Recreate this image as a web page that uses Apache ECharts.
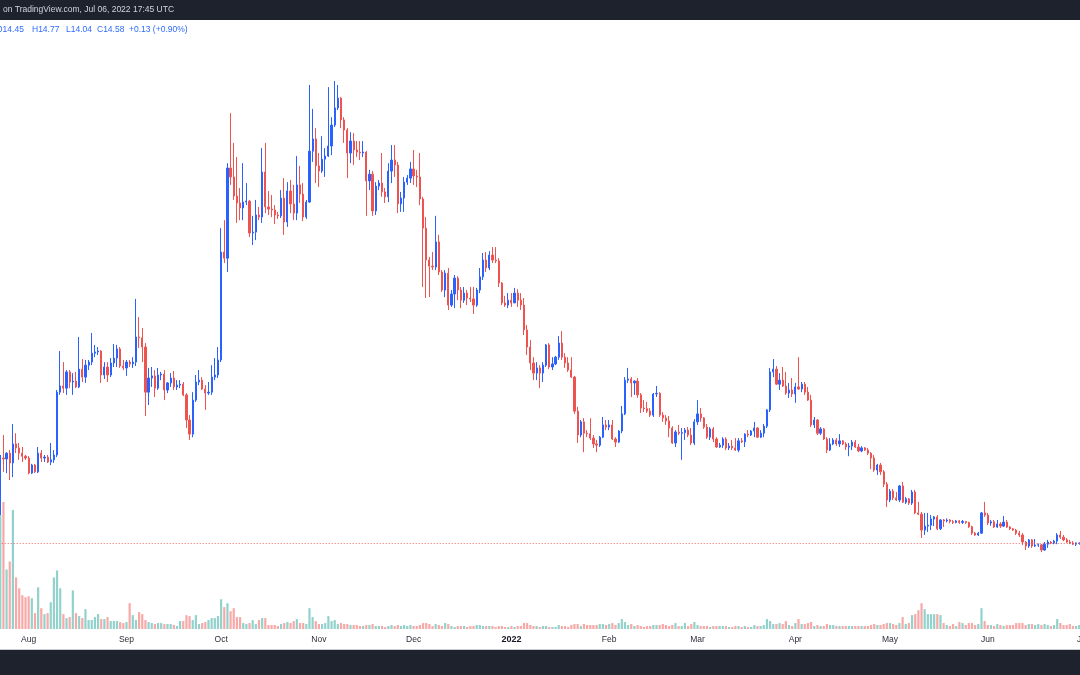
<!DOCTYPE html>
<html>
<head>
<meta charset="utf-8">
<script src="https://cdn.jsdelivr.net/npm/echarts@6/dist/echarts.min.js"></script>
<style>
html,body{margin:0;padding:0;background:#ffffff;}
#chart{width:1080px;height:675px;}
</style>
</head>
<body>
<div id="chart"></div>
<script>
// Daily candles, 2021-07-23 .. 2022-06-30 (axis runs one more day, to 2022-07-01)
const startDate = '2021-07-23';
const dayCount = 344;

const open = [
24.4,42.3,42.0,43.9,40.7,46.9,45.6,43.9,42.9,42.3,
37.4,40.0,37.8,43.9,42.3,42.6,41.0,41.7,43.3,63.8,
65.8,65.1,70.4,67.1,67.4,65.5,71.3,68.7,72.6,73.6,
76.5,76.9,77.2,69.4,72.0,69.4,73.3,74.9,77.9,72.3,
71.7,73.6,73.0,73.6,81.8,81.5,78.5,63.8,68.4,69.1,
65.1,69.4,69.7,64.5,66.8,68.4,65.5,66.1,66.4,62.9,
54.7,50.1,61.2,67.1,67.7,64.8,63.5,63.8,68.7,69.4,
74.3,109.5,107.5,136.9,134.0,127.8,125.5,123.9,125.8,126.1,
115.7,116.0,121.6,120.9,135.6,124.2,123.5,123.2,121.6,121.3,
127.1,119.3,129.4,125.2,122.2,131.4,128.4,120.9,125.8,142.4,
146.4,137.6,135.9,139.8,140.8,144.1,150.9,156.5,159.7,152.6,
149.3,141.8,145.7,142.8,142.1,141.8,142.1,132.7,134.9,122.9,
131.0,132.0,129.1,127.5,135.9,139.5,137.9,125.2,127.1,132.3,
133.6,136.6,134.3,134.0,126.8,117.3,106.9,104.9,104.6,112.8,
103.0,97.1,102.6,92.2,95.8,101.0,97.1,93.8,96.1,94.5,
94.2,92.2,97.1,101.4,106.9,104.3,108.5,106.9,106.6,99.4,
92.9,92.2,93.8,92.9,96.1,93.8,92.2,84.1,78.5,73.3,
70.0,71.7,70.0,72.6,79.2,72.0,73.0,75.2,79.8,75.2,
73.3,71.0,68.7,57.6,49.8,54.1,50.4,50.2,48.8,46.9,
46.5,49.1,53.1,52.4,53.1,48.5,47.5,51.1,56.7,67.7,
68.1,66.8,67.4,62.9,58.6,58.4,57.6,56.3,63.2,63.4,
56.3,55.4,54.4,52.1,47.2,50.8,50.4,50.6,51.4,49.8,
47.2,54.1,56.7,55.4,52.4,49.1,51.8,48.5,45.9,46.5,
48.5,45.6,46.2,45.6,44.9,47.9,47.6,50.1,49.8,51.1,
52.1,49.1,50.4,52.7,58.0,70.4,71.3,66.4,67.7,65.8,
63.5,64.5,63.2,65.5,64.8,66.4,63.8,61.2,53.1,54.7,
50.4,51.8,48.5,44.9,46.9,48.2,46.9,47.9,46.9,45.9,
46.2,47.5,45.9,44.6,45.6,44.9,43.9,42.3,38.4,40.0,
37.8,33.8,28.6,31.5,29.3,28.6,33.2,27.9,29.0,27.6,
31.2,24.4,24.0,18.8,20.1,20.4,22.4,23.1,19.2,22.1,
21.8,22.1,21.6,21.3,21.8,21.3,21.6,21.3,19.9,17.8,
17.2,17.8,24.4,23.7,21.1,21.5,19.8,20.8,20.1,21.4,
19.8,19.2,18.8,17.8,17.2,14.9,13.6,15.6,13.6,13.9,
14.0,12.3,14.2,14.9,14.6,15.2,17.2,16.5,15.6,14.9,
14.6,14.2,14.45
];

const high = [
43.3,49.8,44.2,44.9,53.4,50.4,47.2,45.9,43.3,42.9,
40.4,40.4,45.9,44.9,43.3,43.3,47.2,44.9,64.5,77.2,
73.6,71.0,71.0,70.0,70.4,81.8,74.6,74.3,74.3,83.1,
79.2,78.5,77.5,73.6,73.6,74.9,79.5,79.2,78.5,74.3,
74.3,74.3,75.2,94.2,88.3,84.7,79.8,71.7,72.0,71.0,
71.7,70.4,71.0,67.1,70.0,70.7,67.7,67.7,67.1,63.5,
56.3,63.8,69.4,71.0,68.7,66.1,67.1,72.6,74.9,78.5,
117.3,119.9,138.5,154.8,145.1,140.5,130.4,138.5,132.0,126.5,
121.3,126.5,124.2,143.4,145.1,129.4,128.1,124.8,122.6,129.7,
133.6,132.3,133.0,131.4,140.8,137.6,132.0,126.5,164.0,156.2,
149.9,141.8,147.3,143.4,163.3,153.5,165.3,164.0,160.1,153.5,
149.9,148.6,148.3,145.7,145.7,145.7,142.4,136.3,135.9,132.3,
133.0,141.8,130.4,138.5,144.4,144.4,138.9,129.1,134.0,134.6,
138.9,142.8,136.3,141.8,127.5,120.9,107.9,109.5,121.3,115.1,
103.6,103.6,104.3,97.1,102.0,101.6,98.1,98.1,97.1,98.1,
98.1,97.8,104.3,109.2,109.5,109.8,111.1,111.1,107.5,99.7,
95.2,96.1,96.1,97.8,97.4,96.1,94.5,85.7,80.8,75.2,
73.6,72.6,73.6,79.5,79.8,75.2,75.6,82.1,83.7,76.5,
75.2,75.2,69.1,59.0,54.7,55.3,51.4,55.3,49.8,48.2,
49.5,55.7,54.7,54.7,54.7,49.1,51.4,59.3,68.7,71.7,
68.7,67.7,68.4,63.5,61.2,60.6,58.6,63.5,65.8,63.8,
57.3,56.3,56.0,52.7,51.4,53.1,52.1,52.1,52.4,52.1,
55.0,61.2,58.6,55.7,53.4,52.4,52.4,49.1,47.2,49.1,
49.1,47.2,48.2,48.8,48.8,48.8,50.4,51.4,51.4,54.1,
52.4,51.4,53.4,58.3,71.7,74.6,72.3,70.0,72.0,70.4,
66.8,68.4,66.8,75.2,67.1,67.1,65.5,62.9,55.7,55.0,
52.4,52.1,49.1,48.8,48.8,48.8,50.1,48.2,47.5,47.2,
48.2,48.2,46.9,46.2,45.9,45.6,44.2,43.3,40.4,40.7,
38.4,34.5,32.2,32.2,31.2,33.5,34.5,29.6,29.3,31.9,
31.9,28.0,24.7,24.4,24.4,23.7,23.4,23.7,22.4,22.4,
22.6,22.4,22.1,22.1,22.1,22.1,21.8,21.5,20.2,18.2,
18.2,24.7,28.0,24.4,22.1,22.1,22.1,21.4,23.4,22.1,
20.1,19.5,19.2,18.5,17.8,15.2,15.9,15.9,15.9,14.4,
14.2,14.9,15.6,15.2,15.6,17.8,18.5,17.2,16.2,15.6,
15.2,14.8,14.77
];

const low = [
23.7,37.8,37.4,35.1,36.1,43.9,41.7,41.0,41.7,37.0,
37.1,37.4,37.4,41.0,41.0,40.7,40.0,40.7,42.6,62.9,
63.5,62.9,65.1,62.9,65.1,65.1,67.1,66.8,71.0,72.6,
75.2,75.9,66.8,68.1,67.1,68.7,72.0,72.0,71.7,71.0,
69.1,72.0,71.7,72.3,78.2,73.6,56.0,59.6,65.5,62.2,
64.5,67.7,61.2,63.5,65.5,64.5,64.5,65.1,62.5,52.1,
48.2,49.1,60.6,66.1,64.5,58.0,62.9,62.9,67.7,68.4,
73.6,105.9,103.0,131.4,126.5,119.0,119.9,119.9,124.8,114.4,
111.8,113.4,119.9,119.0,122.2,121.6,120.9,118.6,120.3,120.6,
115.1,117.7,122.2,119.9,119.9,125.5,119.6,120.3,125.5,138.9,
132.0,130.7,135.3,134.0,140.5,141.1,150.3,155.8,149.9,145.1,
133.6,138.5,137.9,140.5,139.5,140.5,121.3,129.7,121.3,121.6,
129.7,127.5,125.5,125.8,132.0,134.0,122.2,122.6,122.6,131.4,
132.0,131.4,130.7,124.8,98.1,94.5,94.8,103.6,103.6,102.0,
96.5,94.8,90.6,91.6,91.2,93.8,91.2,92.9,92.2,93.2,
89.3,91.6,96.1,100.4,103.0,103.6,105.9,105.9,98.1,92.2,
91.6,91.2,91.6,92.9,91.6,90.6,82.4,75.9,71.0,67.7,
67.7,65.1,67.1,72.0,71.3,71.0,72.6,74.3,74.3,71.7,
70.4,68.4,56.7,47.2,49.1,44.2,49.1,48.2,45.6,44.2,
45.9,48.8,51.4,51.4,48.2,45.9,47.2,50.4,56.3,66.8,
62.2,62.9,61.9,57.0,57.3,57.0,55.7,55.7,62.2,55.7,
54.1,53.1,49.1,46.9,45.9,49.8,41.7,48.2,49.1,46.5,
46.5,53.1,54.1,51.8,48.5,48.2,47.5,45.6,45.6,45.6,
44.9,44.9,44.9,44.6,44.2,47.2,45.9,49.1,49.5,49.1,
48.8,48.8,49.1,52.1,57.3,68.7,66.1,64.5,65.5,62.9,
61.9,62.2,60.3,64.5,63.8,62.9,60.9,52.4,52.1,49.8,
49.8,48.2,43.9,44.6,46.5,46.2,45.9,46.5,44.9,42.9,
44.9,45.6,44.2,44.2,44.6,43.3,38.7,37.8,36.8,36.8,
32.8,26.3,27.9,28.6,28.3,27.9,27.6,27.3,27.0,27.0,
24.0,23.7,16.2,17.2,18.2,18.8,20.1,18.8,18.8,19.8,
21.3,21.0,20.8,21.0,20.8,20.8,20.8,19.5,17.2,16.9,
16.9,17.5,23.1,20.4,20.2,19.5,19.5,19.5,19.8,19.5,
18.8,18.5,17.2,16.5,13.9,12.3,13.0,13.0,13.3,13.3,
11.6,12.0,13.0,14.2,14.2,14.2,15.9,15.2,14.6,14.2,
13.9,13.6,14.04
];

const close = [
42.3,42.0,43.9,40.7,46.9,45.6,43.9,42.9,42.3,37.4,
40.0,37.8,43.9,42.3,42.6,41.0,41.7,43.3,63.8,65.8,
65.1,70.4,67.1,67.4,65.5,71.3,68.7,72.6,73.6,76.5,
76.9,77.2,69.4,72.0,69.4,73.3,74.9,77.9,72.3,71.7,
73.6,73.0,73.6,81.8,81.5,78.5,63.8,68.4,69.1,65.1,
69.4,69.7,64.5,66.8,68.4,65.5,66.1,66.4,62.9,54.7,
50.1,61.2,67.1,67.7,64.8,63.5,63.8,68.7,69.4,74.3,
109.5,107.5,136.9,134.0,127.8,125.5,123.9,125.8,126.1,115.7,
116.0,121.6,120.9,135.6,124.2,123.5,123.2,121.6,121.3,127.1,
119.3,129.4,125.2,122.2,131.4,128.4,120.9,125.8,142.4,146.4,
137.6,135.9,139.8,140.8,144.1,150.9,156.5,159.7,152.6,149.3,
141.8,145.7,142.8,142.1,141.8,142.1,132.7,134.9,122.9,131.0,
132.0,129.1,127.5,135.9,139.5,137.9,125.2,127.1,132.3,133.6,
136.6,134.3,134.0,126.8,117.3,106.9,104.9,104.6,112.8,103.0,
97.1,102.6,92.2,95.8,101.0,97.1,93.8,96.1,94.5,94.2,
92.2,97.1,101.4,106.9,104.3,108.5,106.9,106.6,99.4,92.9,
92.2,93.8,92.9,96.1,93.8,92.2,84.1,78.5,73.3,70.0,
71.7,70.0,72.6,79.2,72.0,73.0,75.2,79.8,75.2,73.3,
71.0,68.7,57.6,49.8,54.1,50.4,50.2,48.8,46.9,46.5,
49.1,53.1,52.4,53.1,48.5,47.5,51.1,56.7,67.7,68.1,
66.8,67.4,62.9,58.6,58.4,57.6,56.3,63.2,63.4,56.3,
55.4,54.4,52.1,47.2,50.8,50.4,50.6,51.4,49.8,47.2,
54.1,56.7,55.4,52.4,49.1,51.8,48.5,45.9,46.5,48.5,
45.6,46.2,45.6,44.9,47.9,47.6,50.1,49.8,51.1,52.1,
49.1,50.4,52.7,58.0,70.4,71.3,66.4,67.7,65.8,63.5,
64.5,63.2,65.5,64.8,66.4,63.8,61.2,53.1,54.7,50.4,
51.8,48.5,44.9,46.9,48.2,46.9,47.9,46.9,45.9,46.2,
47.5,45.9,44.6,45.6,44.9,43.9,42.3,38.4,40.0,37.8,
33.8,28.6,31.5,29.3,28.6,33.2,27.9,29.0,27.6,31.2,
24.4,24.0,18.8,20.1,20.4,22.4,23.1,19.2,22.1,21.8,
22.1,21.6,21.3,21.8,21.3,21.6,21.3,19.9,17.8,17.2,
17.8,24.4,23.7,21.1,21.5,19.8,20.8,20.1,21.4,19.8,
19.2,18.8,17.8,17.2,14.9,13.6,15.6,13.6,13.9,14.0,
12.3,14.2,14.9,14.6,15.2,17.2,16.5,15.6,14.9,14.6,
14.2,14.6,14.58
];

// volume, millions
const volume = [
11.5,12.8,6.0,6.8,12.0,5.2,4.1,3.4,3.2,3.3,
3.1,1.6,4.2,2.1,1.5,1.6,2.7,5.2,5.9,4.1,
1.5,1.1,1.2,3.9,1.6,1.3,1.1,2.0,0.9,0.9,
1.2,1.5,1.0,1.0,1.2,0.8,0.8,0.8,0.7,0.6,
0.7,2.6,1.4,0.9,1.7,1.5,0.9,0.7,0.6,0.5,
0.6,0.6,0.5,0.5,0.5,0.4,0.3,0.8,0.8,1.4,
1.3,0.9,1.4,0.5,0.6,0.7,0.9,1.1,1.1,1.3,
3.0,2.2,2.6,1.8,2.1,1.2,1.2,0.6,0.5,0.6,
0.9,0.5,0.9,1.1,1.1,0.4,0.4,0.4,0.3,0.5,
0.6,0.7,0.6,0.8,1.0,0.6,0.6,0.5,2.1,1.2,
0.8,0.5,0.5,0.6,1.3,0.8,0.9,0.5,0.6,0.5,
0.5,0.4,0.4,0.4,0.3,0.3,0.4,0.4,0.5,0.3,
0.3,0.3,0.2,0.3,0.4,0.3,0.4,0.3,0.4,0.3,
0.4,0.3,0.3,0.4,0.6,0.6,0.5,0.3,0.5,0.4,
0.3,0.6,0.5,0.3,0.2,0.3,0.3,0.3,0.2,0.3,
0.3,0.4,0.4,0.3,0.3,0.3,0.3,0.2,0.3,0.3,
0.2,0.2,0.3,0.2,0.3,0.3,0.6,0.6,0.4,0.3,
0.3,0.2,0.3,0.3,0.2,0.2,0.2,0.4,0.3,0.3,
0.2,0.4,0.5,0.5,0.3,0.5,0.4,0.4,0.4,0.4,
0.5,0.5,0.4,0.5,0.6,0.4,0.6,1.0,0.7,0.4,
0.5,0.3,0.4,0.3,0.2,0.3,0.3,0.4,0.4,0.4,
0.5,0.4,0.3,0.4,0.6,0.3,0.3,0.6,0.3,0.5,
0.7,0.4,0.3,0.3,0.3,0.2,0.3,0.3,0.3,0.3,
0.3,0.2,0.2,0.3,0.3,0.2,0.3,0.2,0.2,0.4,
0.3,0.3,0.4,1.0,0.8,0.5,0.5,0.6,0.5,0.8,
0.4,0.3,0.6,1.0,0.5,0.5,0.6,0.7,0.3,0.4,
0.3,0.3,0.5,0.4,0.4,0.3,0.3,0.3,0.3,0.3,
0.3,0.3,0.3,0.3,0.3,0.3,0.4,0.5,0.4,0.4,
0.5,0.6,0.6,0.5,0.4,0.6,1.2,0.5,0.6,1.4,
1.5,1.9,2.6,2.0,1.5,1.5,1.5,1.5,1.4,0.6,
0.4,0.3,0.5,0.3,0.7,0.6,0.4,0.6,0.6,0.4,
0.5,2.1,0.8,0.4,0.4,0.3,0.5,0.4,0.3,0.4,
0.4,0.4,0.6,0.6,0.6,0.4,0.5,0.5,0.4,0.5,
0.4,0.5,0.4,0.3,0.4,1.0,0.6,0.4,0.4,0.5,
0.3,0.3,0.4
];

const lastPrice = 14.58;
const monthNames = ['Jan','Feb','Mar','Apr','May','Jun','Jul','Aug','Sep','Oct','Nov','Dec'];
const headerText = 'on TradingView.com, Jul 06, 2022 17:45 UTC';
const ohlcParts = ['O14.45', 'H14.77', 'L14.04', 'C14.58', '+0.13 (+0.90%)'];

// build category dates
const dates = [];
(function(){
  const p = startDate.split('-').map(Number);
  const t = Date.UTC(p[0], p[1]-1, p[2]);
  for (let i = 0; i < dayCount; i++) {
    const d = new Date(t + i*86400000);
    dates.push(d.getUTCFullYear() + '-' + String(d.getUTCMonth()+1).padStart(2,'0') + '-' + String(d.getUTCDate()).padStart(2,'0'));
  }
})();

const UP = '#2962ff', DOWN = '#ef5350';
const UPVOL = 'rgba(38,166,154,0.5)', DOWNVOL = 'rgba(239,83,80,0.5)';

const candleData = open.map((o,i)=>[o, close[i], low[i], high[i]]);
const volData = volume.map((v,i)=>({value:v, itemStyle:{color: close[i] >= open[i] ? UPVOL : DOWNVOL}}));

const chart = echarts.init(document.getElementById('chart'), null, {renderer:'canvas'});
const FONT = '"Liberation Sans", Arial, sans-serif';
const STEP = 3.155;
const GRID_W = STEP * dayCount;

const ohlcX = [-4, 32, 66, 97, 129];
const ohlcGraphics = ohlcParts.map((t,i)=>({
  type:'text', left: ohlcX[i], top: 25,
  style:{text: t, fill: '#2f6bff', font: '8.5px ' + FONT}, z: 11
}));

chart.setOption({
  animation: false,
  backgroundColor: '#ffffff',
  grid: [
    {left: -1.3, top: 20, width: GRID_W, height: 609, containLabel: false, outerBoundsMode: 'none'},
    {left: -1.3, top: 500, width: GRID_W, height: 129, containLabel: false, outerBoundsMode: 'none'}
  ],
  xAxis: [
    {
      type: 'category', gridIndex: 0, data: dates, boundaryGap: true,
      axisLine: {show:false}, axisTick: {show:false}, splitLine: {show:false},
      axisLabel: {
        margin: 6,
        color: '#2a2e39',
        fontSize: 8.5,
        fontFamily: FONT,
        interval: function(idx, val){ return val.slice(8) === '01'; },
        formatter: function(val){
          const m = Number(val.slice(5,7));
          if (m === 1) return '{y|' + val.slice(0,4) + '}';
          return monthNames[m-1];
        },
        rich: { y: {fontWeight: 'bold', fontSize: 9, color: '#131722', fontFamily: FONT} }
      }
    },
    {type: 'category', gridIndex: 1, data: dates, boundaryGap: true, show: false}
  ],
  yAxis: [
    {type: 'value', gridIndex: 0, min: -13.47, max: 185.19, show: false, splitLine:{show:false}},
    {type: 'value', gridIndex: 1, min: 0, max: 13, show: false, splitLine:{show:false}}
  ],
  series: [
    {
      type: 'bar', xAxisIndex: 1, yAxisIndex: 1, data: volData,
      barWidth: 2.2, z: 1
    },
    {
      type: 'candlestick', xAxisIndex: 0, yAxisIndex: 0, data: candleData,
      barWidth: 1.7, z: 3,
      itemStyle: {color: UP, color0: DOWN, borderColor: UP, borderColor0: DOWN, borderWidth: 1},
      markLine: {
        silent: true, symbol: ['none','none'], label: {show:false},
        lineStyle: {color: DOWN, type: [1,2], width: 1, opacity: 0.9},
        data: [{yAxis: lastPrice}]
      }
    }
  ],
  graphic: [
    {type:'rect', left: 0, top: 0, shape:{x:0,y:0,width:1080,height:20}, style:{fill:'#1e222d'}, z: 10},
    {type:'text', left: 3, top: 5, style:{text: headerText, fill:'#d1d4dc', font: '8.5px ' + FONT}, z: 11},
    {type:'rect', left: 0, top: 649, shape:{x:0,y:0,width:1080,height:1}, style:{fill:'#c9ccd4'}, z: 10},
    {type:'rect', left: 0, top: 650, shape:{x:0,y:0,width:1080,height:25}, style:{fill:'#1e222d'}, z: 10}
  ].concat(ohlcGraphics)
});
</script>
</body>
</html>
